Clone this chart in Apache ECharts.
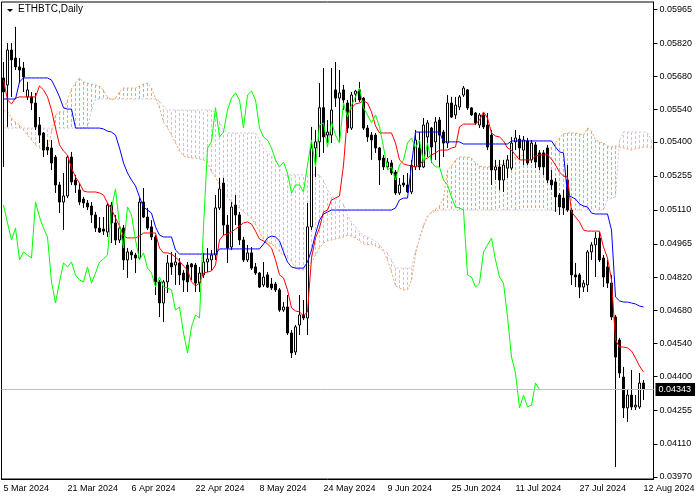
<!DOCTYPE html>
<html>
<head>
<meta charset="utf-8">
<script src="https://cdn.jsdelivr.net/npm/echarts@6/dist/echarts.min.js"></script>
<style>
    html, body { margin: 0; padding: 0; background: #fff; }
    #myChart { width: 700px; height: 500px; }
</style>
</head>
<body>
<div id="myChart"></div>
<script>
// ETHBTC daily, Ichimoku Kinko Hyo (MT4 look)

var symbolName = 'ETHBTC,Daily';
var months = ['Jan', 'Feb', 'Mar', 'Apr', 'May', 'Jun', 'Jul', 'Aug', 'Sep', 'Oct', 'Nov', 'Dec'];

// [open, close, low, high], one per day from 5 Mar 2024 to 12 Aug 2024
var candles = [
    [0.05673, 0.05613, 0.05293, 0.05741], [0.05643, 0.05792, 0.05464, 0.05822], [0.05792, 0.05750, 0.05592, 0.05822],
    [0.05758, 0.05720, 0.05707, 0.05891], [0.05720, 0.05707, 0.05651, 0.05758], [0.05715, 0.05677, 0.05613, 0.05741],
    [0.05592, 0.05622, 0.05579, 0.05656], [0.05592, 0.05566, 0.05536, 0.05613], [0.05566, 0.05464, 0.05451, 0.05609],
    [0.05472, 0.05429, 0.05395, 0.05506], [0.05438, 0.05365, 0.05335, 0.05442], [0.05378, 0.05365, 0.05344, 0.05408],
    [0.05374, 0.05310, 0.05280, 0.05408], [0.05335, 0.05216, 0.05182, 0.05344], [0.05216, 0.05143, 0.05096, 0.05229],
    [0.05143, 0.05169, 0.05024, 0.05267], [0.05169, 0.05335, 0.05160, 0.05344], [0.05335, 0.05229, 0.05216, 0.05357],
    [0.05237, 0.05216, 0.05182, 0.05259], [0.05195, 0.05143, 0.05130, 0.05224], [0.05156, 0.05139, 0.05118, 0.05165],
    [0.05139, 0.05122, 0.05109, 0.05152], [0.05126, 0.05088, 0.05054, 0.05143], [0.05088, 0.05032, 0.05015, 0.05101],
    [0.05032, 0.05015, 0.05011, 0.05079], [0.05028, 0.05019, 0.05002, 0.05079], [0.05015, 0.05130, 0.04994, 0.05139],
    [0.05130, 0.05054, 0.04968, 0.05143], [0.05054, 0.04981, 0.04960, 0.05088], [0.04981, 0.05032, 0.04968, 0.05045],
    [0.05032, 0.04896, 0.04853, 0.05045], [0.04896, 0.04930, 0.04819, 0.04947], [0.04930, 0.04917, 0.04896, 0.04938],
    [0.04917, 0.04904, 0.04840, 0.04926], [0.04904, 0.05143, 0.04896, 0.05160], [0.05143, 0.05079, 0.05075, 0.05203],
    [0.05079, 0.05032, 0.05024, 0.05118], [0.05037, 0.04994, 0.04981, 0.05066], [0.04994, 0.04802, 0.04746, 0.05002],
    [0.04802, 0.04712, 0.04652, 0.04810], [0.04712, 0.04802, 0.04631, 0.04810], [0.04802, 0.04883, 0.04755, 0.04917],
    [0.04883, 0.04866, 0.04832, 0.04930], [0.04874, 0.04887, 0.04789, 0.04926], [0.04883, 0.04832, 0.04789, 0.04904],
    [0.04840, 0.04810, 0.04759, 0.04853], [0.04874, 0.04802, 0.04759, 0.04887], [0.04879, 0.04866, 0.04810, 0.04883],
    [0.04874, 0.04797, 0.04759, 0.04883], [0.04797, 0.04840, 0.04759, 0.04866], [0.04832, 0.04887, 0.04819, 0.04926],
    [0.04887, 0.04900, 0.04844, 0.04947], [0.04896, 0.04917, 0.04853, 0.04938], [0.04917, 0.05118, 0.04896, 0.05173],
    [0.05118, 0.05199, 0.05109, 0.05246], [0.05224, 0.05045, 0.05002, 0.05246], [0.05045, 0.04947, 0.04883, 0.05088],
    [0.04951, 0.05122, 0.04938, 0.05143], [0.05130, 0.05088, 0.05045, 0.05173], [0.05088, 0.04981, 0.04960, 0.05101],
    [0.04981, 0.04896, 0.04887, 0.04994], [0.04896, 0.04926, 0.04887, 0.04960], [0.04926, 0.04861, 0.04853, 0.04951],
    [0.04866, 0.04840, 0.04832, 0.04883], [0.04840, 0.04780, 0.04776, 0.04844], [0.04789, 0.04823, 0.04780, 0.04887],
    [0.04832, 0.04780, 0.04776, 0.04844], [0.04793, 0.04776, 0.04768, 0.04819], [0.04793, 0.04768, 0.04759, 0.04802],
    [0.04768, 0.04682, 0.04674, 0.04776], [0.04682, 0.04695, 0.04674, 0.04716], [0.04695, 0.04584, 0.04575, 0.04746],
    [0.04584, 0.04499, 0.04477, 0.04597], [0.04503, 0.04610, 0.04490, 0.04618], [0.04618, 0.04661, 0.04575, 0.04746],
    [0.04661, 0.04648, 0.04639, 0.04725], [0.04648, 0.05037, 0.04575, 0.05139], [0.05037, 0.05374, 0.05024, 0.05464],
    [0.05374, 0.05400, 0.05250, 0.05451], [0.05400, 0.05546, 0.05335, 0.05651], [0.05546, 0.05421, 0.05353, 0.05715],
    [0.05429, 0.05442, 0.05395, 0.05493], [0.05429, 0.05536, 0.05395, 0.05715], [0.05622, 0.05587, 0.05549, 0.05741],
    [0.05587, 0.05609, 0.05400, 0.05707], [0.05622, 0.05579, 0.05536, 0.05643], [0.05566, 0.05459, 0.05438, 0.05579],
    [0.05459, 0.05600, 0.05451, 0.05613], [0.05604, 0.05617, 0.05570, 0.05622], [0.05622, 0.05579, 0.05570, 0.05656],
    [0.05587, 0.05459, 0.05451, 0.05592], [0.05459, 0.05421, 0.05400, 0.05472], [0.05429, 0.05408, 0.05323, 0.05442],
    [0.05429, 0.05374, 0.05353, 0.05438], [0.05374, 0.05323, 0.05216, 0.05378], [0.05331, 0.05293, 0.05280, 0.05344],
    [0.05293, 0.05314, 0.05280, 0.05331], [0.05310, 0.05267, 0.05259, 0.05323], [0.05271, 0.05182, 0.05173, 0.05280],
    [0.05182, 0.05216, 0.05173, 0.05246], [0.05224, 0.05216, 0.05207, 0.05259], [0.05216, 0.05186, 0.05182, 0.05267],
    [0.05186, 0.05301, 0.05177, 0.05323], [0.05293, 0.05408, 0.05280, 0.05451], [0.05374, 0.05293, 0.05280, 0.05442],
    [0.05293, 0.05472, 0.05288, 0.05502], [0.05421, 0.05481, 0.05335, 0.05493], [0.05459, 0.05378, 0.05310, 0.05464],
    [0.05400, 0.05485, 0.05323, 0.05506], [0.05493, 0.05429, 0.05293, 0.05506], [0.05442, 0.05395, 0.05335, 0.05451],
    [0.05395, 0.05566, 0.05374, 0.05600], [0.05566, 0.05506, 0.05502, 0.05592], [0.05515, 0.05557, 0.05498, 0.05592],
    [0.05549, 0.05592, 0.05536, 0.05600], [0.05600, 0.05630, 0.05592, 0.05639], [0.05622, 0.05545, 0.05536, 0.05626],
    [0.05545, 0.05515, 0.05511, 0.05549], [0.05523, 0.05481, 0.05472, 0.05528], [0.05472, 0.05515, 0.05459, 0.05523],
    [0.05515, 0.05464, 0.05455, 0.05523], [0.05472, 0.05378, 0.05365, 0.05523], [0.05429, 0.05280, 0.05216, 0.05451],
    [0.05280, 0.05293, 0.05237, 0.05323], [0.05293, 0.05237, 0.05195, 0.05323], [0.05237, 0.05301, 0.05186, 0.05323],
    [0.05288, 0.05323, 0.05246, 0.05344], [0.05288, 0.05395, 0.05280, 0.05421], [0.05400, 0.05417, 0.05365, 0.05451],
    [0.05412, 0.05374, 0.05323, 0.05429], [0.05365, 0.05408, 0.05301, 0.05425], [0.05404, 0.05310, 0.05301, 0.05417],
    [0.05323, 0.05395, 0.05310, 0.05408], [0.05387, 0.05314, 0.05288, 0.05400], [0.05353, 0.05293, 0.05280, 0.05365],
    [0.05353, 0.05293, 0.05259, 0.05365], [0.05374, 0.05237, 0.05224, 0.05387], [0.05237, 0.05216, 0.05195, 0.05280],
    [0.05229, 0.05165, 0.05101, 0.05246], [0.05173, 0.05122, 0.05088, 0.05182], [0.05160, 0.05118, 0.05088, 0.05195],
    [0.05237, 0.05109, 0.05101, 0.05301], [0.05109, 0.04832, 0.04789, 0.05118], [0.04832, 0.04823, 0.04780, 0.04883],
    [0.04832, 0.04780, 0.04733, 0.04840], [0.04780, 0.04797, 0.04759, 0.04810], [0.04789, 0.04930, 0.04759, 0.04938],
    [0.04930, 0.04960, 0.04896, 0.04972], [0.04960, 0.04989, 0.04823, 0.05015], [0.04989, 0.04896, 0.04887, 0.05015],
    [0.04904, 0.04823, 0.04780, 0.04917], [0.04866, 0.04797, 0.04776, 0.04896], [0.04797, 0.04652, 0.04639, 0.04832],
    [0.04652, 0.04481, 0.04012, 0.04661], [0.04554, 0.04413, 0.04392, 0.04563], [0.04396, 0.04264, 0.04221, 0.04439],
    [0.04264, 0.04319, 0.04204, 0.04341], [0.04319, 0.04268, 0.04255, 0.04426], [0.04268, 0.04276, 0.04255, 0.04319],
    [0.04268, 0.04370, 0.04260, 0.04413], [0.04370, 0.04343, 0.04298, 0.04383]
];

// Tenkan-sen (red)
var tenkan = [
    0.05664, 0.05579, 0.05562, 0.05587, 0.05592, 0.05592, 0.05592, 0.05592, 0.05592, 0.05639,
    0.05622, 0.05592, 0.05536, 0.05459, 0.05387, 0.05361, 0.05344, 0.05288, 0.05250, 0.05224,
    0.05190, 0.05186, 0.05186, 0.05186, 0.05182, 0.05173, 0.05139, 0.05113, 0.05075, 0.05041,
    0.04998, 0.04990, 0.04990, 0.04990, 0.04998, 0.05011, 0.05011, 0.05011, 0.05011, 0.04947,
    0.04926, 0.04926, 0.04921, 0.04908, 0.04891, 0.04870, 0.04853, 0.04802, 0.04785, 0.04797,
    0.04840, 0.04844, 0.04849, 0.04874, 0.04981, 0.05002, 0.05007, 0.05015, 0.05028, 0.05041,
    0.05054, 0.05058, 0.05049, 0.05019, 0.04985, 0.04977, 0.04964, 0.04947, 0.04896, 0.04832,
    0.04819, 0.04768, 0.04691, 0.04678, 0.04674, 0.04657, 0.04674, 0.04904, 0.04990, 0.05032,
    0.05101, 0.05109, 0.05152, 0.05160, 0.05169, 0.05301, 0.05515, 0.05545, 0.05562, 0.05566,
    0.05575, 0.05566, 0.05528, 0.05468, 0.05438, 0.05438, 0.05438, 0.05438, 0.05395, 0.05323,
    0.05306, 0.05301, 0.05297, 0.05293, 0.05301, 0.05323, 0.05331, 0.05344, 0.05353, 0.05365,
    0.05365, 0.05365, 0.05374, 0.05378, 0.05464, 0.05476, 0.05476, 0.05476, 0.05476, 0.05493,
    0.05528, 0.05502, 0.05438, 0.05425, 0.05421, 0.05404, 0.05374, 0.05365, 0.05344, 0.05323,
    0.05323, 0.05323, 0.05323, 0.05340, 0.05344, 0.05344, 0.05344, 0.05327, 0.05301, 0.05271,
    0.05254, 0.05250, 0.05101, 0.05079, 0.05058, 0.05024, 0.05019, 0.05019, 0.05019, 0.05019,
    0.04951, 0.04904, 0.04810, 0.04554, 0.04524, 0.04524, 0.04520, 0.04507, 0.04477, 0.04443,
    0.04417
];

// Kijun-sen (blue)
var kijun = [
    0.05583, 0.05583, 0.05583, 0.05583, 0.05656, 0.05673, 0.05673, 0.05673, 0.05673, 0.05673,
    0.05673, 0.05673, 0.05664, 0.05630, 0.05592, 0.05545, 0.05540, 0.05540, 0.05459, 0.05459,
    0.05459, 0.05459, 0.05459, 0.05459, 0.05459, 0.05455, 0.05446, 0.05442, 0.05429, 0.05374,
    0.05310, 0.05267, 0.05237, 0.05212, 0.05165, 0.05122, 0.05109, 0.05096, 0.05037, 0.05002,
    0.04994, 0.04994, 0.04994, 0.04938, 0.04921, 0.04921, 0.04921, 0.04921, 0.04921, 0.04921,
    0.04921, 0.04921, 0.04921, 0.04921, 0.04943, 0.04943, 0.04943, 0.04943, 0.04943, 0.04943,
    0.04943, 0.04943, 0.04943, 0.04943, 0.04943, 0.04964, 0.04990, 0.04998, 0.04994, 0.04977,
    0.04930, 0.04887, 0.04866, 0.04861, 0.04861, 0.04861, 0.04887, 0.04938, 0.05007, 0.05066,
    0.05092, 0.05101, 0.05109, 0.05109, 0.05109, 0.05109, 0.05109, 0.05109, 0.05109, 0.05109,
    0.05109, 0.05109, 0.05109, 0.05109, 0.05109, 0.05109, 0.05109, 0.05109, 0.05118, 0.05152,
    0.05160, 0.05160, 0.05301, 0.05442, 0.05442, 0.05442, 0.05442, 0.05442, 0.05442, 0.05442,
    0.05400, 0.05400, 0.05400, 0.05400, 0.05400, 0.05391, 0.05391, 0.05391, 0.05391, 0.05391,
    0.05391, 0.05391, 0.05391, 0.05391, 0.05391, 0.05391, 0.05391, 0.05404, 0.05404, 0.05404,
    0.05404, 0.05404, 0.05404, 0.05404, 0.05404, 0.05404, 0.05404, 0.05404, 0.05378, 0.05357,
    0.05353, 0.05173, 0.05165, 0.05156, 0.05135, 0.05126, 0.05122, 0.05096, 0.05092, 0.05092,
    0.05092, 0.05092, 0.05024, 0.04738, 0.04721, 0.04716, 0.04716, 0.04712, 0.04708, 0.04699,
    0.04695
];

// Senkou Span A (already shifted forward, runs 2 days past the last candle)
var spanA = [
    0.05536, 0.05528, 0.05502, 0.05485, 0.05472, 0.05451, 0.05429, 0.05408, 0.05387, 0.05374,
    0.05365, 0.05378, 0.05442, 0.05515, 0.05528, 0.05528, 0.05579, 0.05626, 0.05651, 0.05673,
    0.05656, 0.05651, 0.05647, 0.05643, 0.05639, 0.05622, 0.05592, 0.05579, 0.05587, 0.05613,
    0.05630, 0.05630, 0.05630, 0.05630, 0.05639, 0.05647, 0.05651, 0.05630, 0.05587, 0.05545,
    0.05485, 0.05459, 0.05429, 0.05395, 0.05361, 0.05340, 0.05335, 0.05331, 0.05331, 0.05327,
    0.05323, 0.05314, 0.05271, 0.05250, 0.05216, 0.05182, 0.05165, 0.05143, 0.05130, 0.05118,
    0.05101, 0.05088, 0.05071, 0.05049, 0.05015, 0.04985, 0.04972, 0.04964, 0.04951, 0.04930,
    0.04917, 0.04904, 0.04891, 0.04861, 0.04853, 0.04853, 0.04861, 0.04887, 0.04917, 0.04947,
    0.04968, 0.04977, 0.04981, 0.04985, 0.04990, 0.04994, 0.05002, 0.04998, 0.04990, 0.04977,
    0.04964, 0.04960, 0.04964, 0.04955, 0.04947, 0.04934, 0.04896, 0.04844, 0.04785, 0.04776,
    0.04768, 0.04768, 0.04810, 0.04917, 0.04990, 0.05045, 0.05084, 0.05101, 0.05113, 0.05126,
    0.05160, 0.05280, 0.05297, 0.05323, 0.05335, 0.05335, 0.05335, 0.05331, 0.05310, 0.05297,
    0.05293, 0.05293, 0.05293, 0.05297, 0.05301, 0.05306, 0.05314, 0.05323, 0.05335, 0.05340,
    0.05344, 0.05344, 0.05344, 0.05344, 0.05344, 0.05344, 0.05353, 0.05378, 0.05395, 0.05417,
    0.05434, 0.05438, 0.05438, 0.05438, 0.05434, 0.05429, 0.05459, 0.05446, 0.05408, 0.05400,
    0.05395, 0.05382, 0.05378, 0.05382, 0.05378, 0.05374, 0.05370, 0.05365, 0.05370, 0.05374,
    0.05378, 0.05378, 0.05374
];

// Senkou Span B
var spanB = [
    0.05459, 0.05459, 0.05459, 0.05459, 0.05459, 0.05459, 0.05459, 0.05459, 0.05459, 0.05459,
    0.05459, 0.05459, 0.05459, 0.05459, 0.05459, 0.05459, 0.05459, 0.05459, 0.05459, 0.05459,
    0.05459, 0.05459, 0.05536, 0.05583, 0.05583, 0.05583, 0.05583, 0.05583, 0.05583, 0.05583,
    0.05583, 0.05583, 0.05583, 0.05583, 0.05583, 0.05583, 0.05583, 0.05583, 0.05583, 0.05575,
    0.05553, 0.05536, 0.05536, 0.05536, 0.05536, 0.05536, 0.05536, 0.05536, 0.05536, 0.05536,
    0.05536, 0.05536, 0.05536, 0.05523, 0.05485, 0.05451, 0.05438, 0.05438, 0.05438, 0.05438,
    0.05438, 0.05438, 0.05438, 0.05438, 0.05408, 0.05374, 0.05353, 0.05340, 0.05323, 0.05288,
    0.05259, 0.05259, 0.05259, 0.05259, 0.05259, 0.05259, 0.05259, 0.05259, 0.05259, 0.05259,
    0.05237, 0.05195, 0.05169, 0.05156, 0.05152, 0.05135, 0.05088, 0.05058, 0.05037, 0.05015,
    0.05002, 0.04994, 0.04985, 0.04977, 0.04960, 0.04938, 0.04926, 0.04896, 0.04861, 0.04861,
    0.04861, 0.04861, 0.04861, 0.04938, 0.04981, 0.05037, 0.05079, 0.05096, 0.05105, 0.05109,
    0.05109, 0.05109, 0.05109, 0.05109, 0.05109, 0.05109, 0.05109, 0.05109, 0.05109, 0.05109,
    0.05109, 0.05109, 0.05109, 0.05109, 0.05109, 0.05109, 0.05109, 0.05109, 0.05109, 0.05109,
    0.05109, 0.05109, 0.05109, 0.05109, 0.05109, 0.05109, 0.05109, 0.05109, 0.05109, 0.05109,
    0.05109, 0.05109, 0.05109, 0.05109, 0.05109, 0.05109, 0.05109, 0.05109, 0.05109, 0.05109,
    0.05109, 0.05152, 0.05160, 0.05165, 0.05408, 0.05442, 0.05442, 0.05442, 0.05442, 0.05442,
    0.05442, 0.05438, 0.05408
];

var priceTicks = [0.03970, 0.04110, 0.04255, 0.04400, 0.04540, 0.04680, 0.04820, 0.04965,
    0.05110, 0.05255, 0.05400, 0.05540, 0.05680, 0.05820, 0.05965];

var upCloud = '#f4a460';   // SandyBrown
var downCloud = '#d8bfd8'; // Thistle

// 日期轴，一天一根
var dates = [];
var t0 = Date.UTC(2024, 2, 5);
for (var i = 0; i < spanA.length; i++) {
    var d = new Date(t0 + i * 86400000);
    dates.push(d.getUTCDate() + ' ' + months[d.getUTCMonth()] + ' ' + d.getUTCFullYear());
}

var closes = candles.map(function (c) { return c[1]; });
var chikou = closes.slice(26); // close drawn 26 bars back
var lastClose = closes[closes.length - 1];

var cloud = spanA.map(function (a, i) { return [i, a, spanB[i]]; });

// 云层竖线填充
function renderCloud(params, api) {
    var p1 = api.coord([api.value(0), api.value(1)]);
    var p2 = api.coord([api.value(0), api.value(2)]);
    var x = Math.floor(p1[0]) + 0.5;
    return {
        type: 'line',
        shape: { x1: x, y1: p1[1], x2: x, y2: p2[1] },
        style: {
            stroke: api.value(1) >= api.value(2) ? upCloud : downCloud,
            lineWidth: 1,
            lineDash: [3, 2]
        }
    };
}

var myChart = echarts.init(document.getElementById('myChart'));

var option = {
    animation: false,
    backgroundColor: '#fff',
    textStyle: { fontFamily: 'Liberation Sans, Arial, sans-serif' },
    title: {
        text: symbolName,
        left: 18,
        top: 4,
        padding: 0,
        textStyle: { fontSize: 10, fontWeight: 'normal', color: '#000' }
    },
    graphic: [{
        type: 'polygon',
        shape: { points: [[7, 9], [13, 9], [10, 12]] },
        style: { fill: '#000' }
    }],
    grid: {
        left: 1.5,
        right: 46.5,
        top: 2,
        bottom: 21,
        containLabel: false,
        outerBoundsMode: 'none',
        show: true,
        borderColor: '#000',
        borderWidth: 1,
        backgroundColor: '#fff'
    },
    xAxis: {
        type: 'category',
        data: dates,
        boundaryGap: true,
        axisLine: { lineStyle: { color: '#000' } },
        axisTick: { interval: 15, alignWithLabel: true, length: 4, lineStyle: { color: '#000' } },
        axisLabel: { interval: 15, align: 'left', margin: 5, fontSize: 9, color: '#000', hideOverlap: false },
        splitLine: { show: false }
    },
    yAxis: {
        type: 'value',
        position: 'right',
        min: 0.039605,
        max: 0.059973,
        axisLine: { show: true, lineStyle: { color: '#000' } },
        axisTick: { show: true, length: 4, customValues: priceTicks, lineStyle: { color: '#000' } },
        axisLabel: {
            customValues: priceTicks,
            formatter: function (v) { return v.toFixed(5); },
            fontSize: 9,
            color: '#000',
            margin: 6
        },
        splitLine: { show: false }
    },
    series: [
        {
            type: 'custom',
            name: 'cloud',
            renderItem: renderCloud,
            data: cloud,
            encode: { x: 0, y: [1, 2] },
            silent: true,
            z: 1
        },
        {
            type: 'line',
            name: 'Senkou Span A',
            data: spanA,
            symbol: 'none',
            silent: true,
            lineStyle: { color: upCloud, width: 1, type: [2, 2] },
            z: 2
        },
        {
            type: 'line',
            name: 'Senkou Span B',
            data: spanB,
            symbol: 'none',
            silent: true,
            lineStyle: { color: downCloud, width: 1, type: [2, 2] },
            z: 2
        },
        {
            type: 'candlestick',
            name: 'ETHBTC',
            data: candles,
            barWidth: 3,
            itemStyle: {
                color: '#fff',
                color0: '#000',
                borderColor: '#000',
                borderColor0: '#000',
                borderWidth: 1
            },
            markLine: {
                symbol: 'none',
                silent: true,
                precision: 5,
                data: [{ yAxis: lastClose }],
                lineStyle: { color: '#c0c0c0', width: 1, type: 'solid' },
                label: {
                    position: 'end',
                    distance: 2,
                    formatter: function (p) { return Number(p.value).toFixed(5); },
                    color: '#fff',
                    backgroundColor: '#000',
                    padding: [2, 4, 2, 3],
                    fontSize: 9
                }
            },
            z: 3
        },
        {
            type: 'line',
            name: 'Tenkan-sen',
            data: tenkan,
            symbol: 'none',
            silent: true,
            lineStyle: { color: '#ff0000', width: 1 },
            z: 4
        },
        {
            type: 'line',
            name: 'Kijun-sen',
            data: kijun,
            symbol: 'none',
            silent: true,
            lineStyle: { color: '#0000ff', width: 1 },
            z: 4
        },
        {
            type: 'line',
            name: 'Chikou Span',
            data: chikou,
            symbol: 'none',
            silent: true,
            lineStyle: { color: '#00ff00', width: 1 },
            z: 4
        }
    ]
};

myChart.setOption(option);
</script>
</body>
</html>
